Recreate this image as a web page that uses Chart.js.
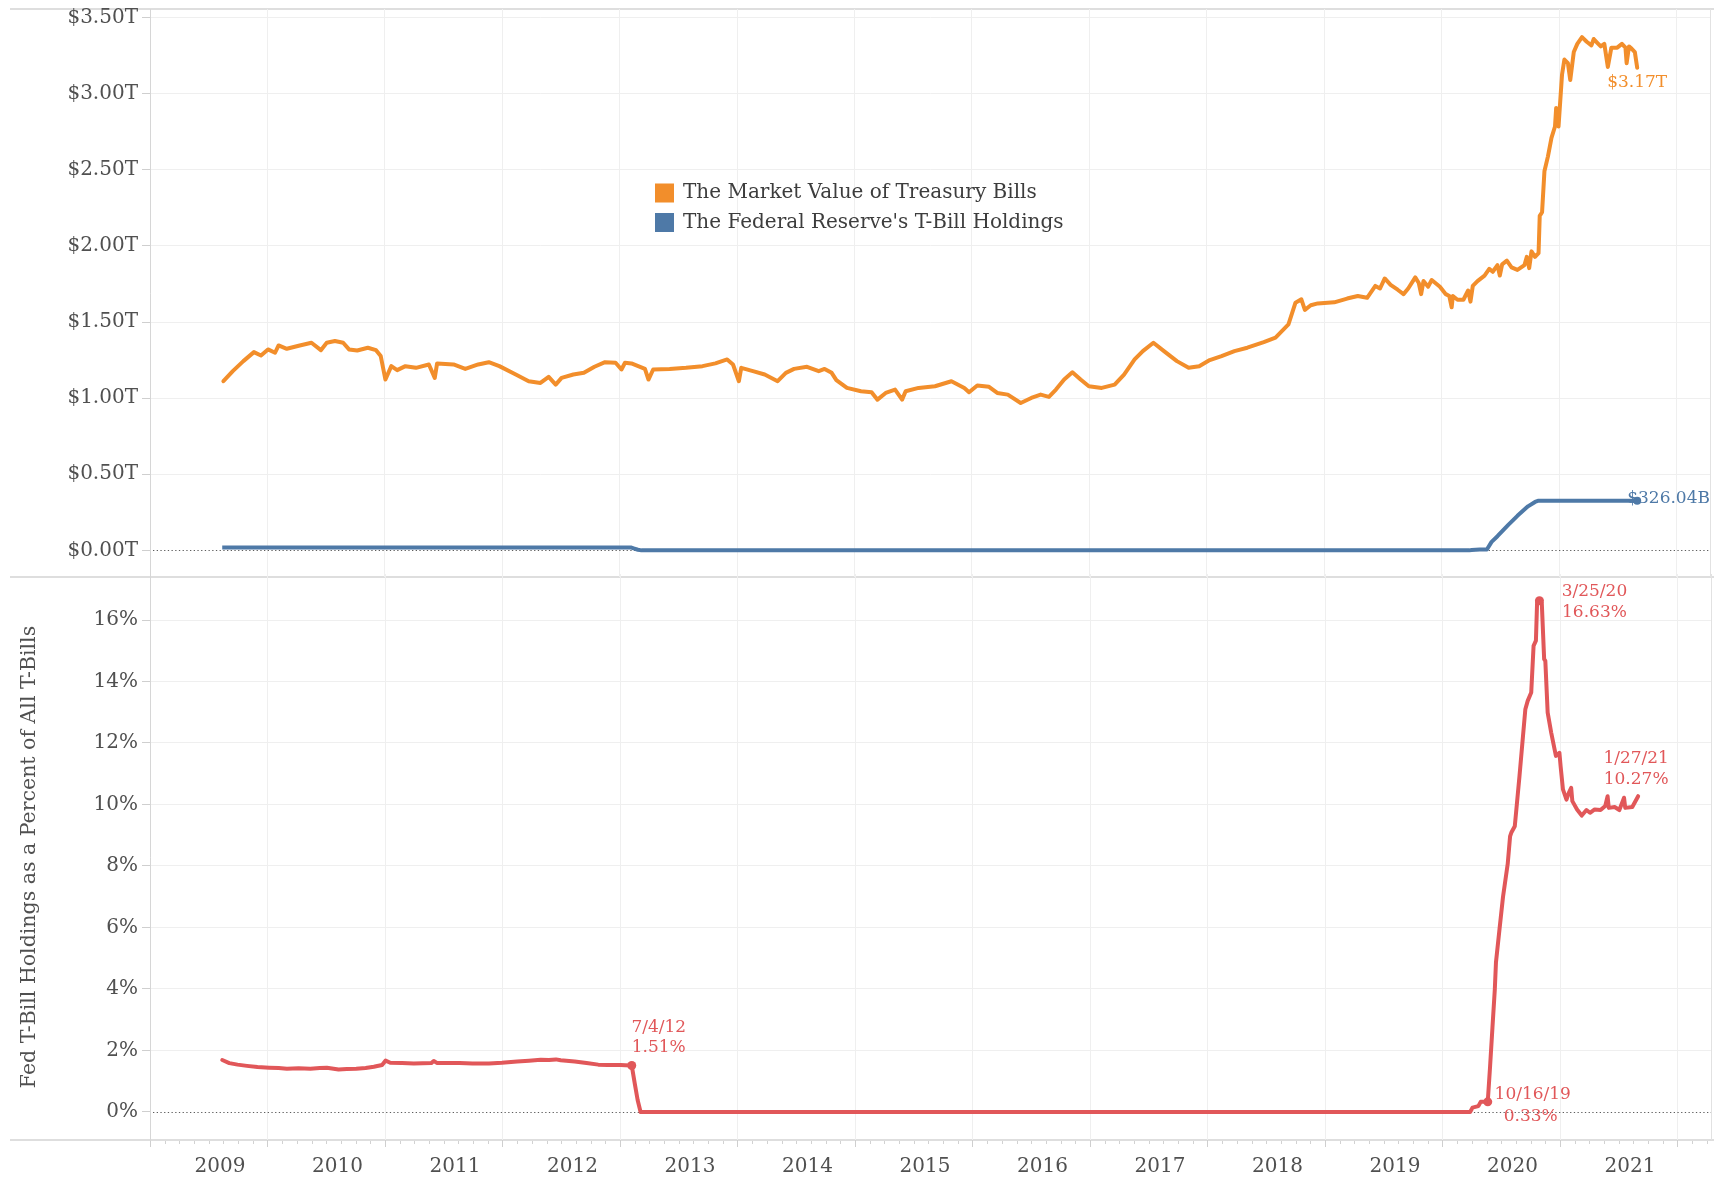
<!DOCTYPE html>
<html><head><meta charset="utf-8">
<script src="https://cdn.jsdelivr.net/npm/chart.js@4.4.1/dist/chart.umd.min.js"></script>
<style>
html,body{margin:0;padding:0;background:#fff;}
body{width:1714px;height:1179px;overflow:hidden;position:relative;}
#top{position:absolute;left:0;top:0;width:1714px;height:581px;}
#bot{position:absolute;left:0;top:560px;width:1714px;height:619px;}
</style></head>
<body>
<div id="top"><canvas id="c1"></canvas></div>
<div id="bot"><canvas id="c2"></canvas></div>
<script>
// ---------- DATA (dates as decimal years) ----------
const orangeYears = [2009.03,2009.11,2009.20,2009.29,2009.35,2009.41,2009.47,2009.50,2009.57,2009.68,2009.78,2009.86,2009.91,2009.98,2010.05,2010.10,2010.17,2010.26,2010.33,2010.37,2010.41,2010.46,2010.51,2010.58,2010.67,2010.78,2010.83,2010.85,2010.99,2011.09,2011.20,2011.29,2011.38,2011.52,2011.63,2011.73,2011.80,2011.86,2011.91,2012.01,2012.10,2012.19,2012.28,2012.37,2012.42,2012.45,2012.505,2012.62,2012.65,2012.69,2012.83,2012.97,2013.11,2013.22,2013.32,2013.37,2013.42,2013.44,2013.54,2013.64,2013.75,2013.82,2013.89,2014.00,2014.10,2014.15,2014.21,2014.25,2014.34,2014.46,2014.55,2014.60,2014.67,2014.75,2014.81,2014.84,2014.95,2015.09,2015.23,2015.34,2015.38,2015.45,2015.55,2015.62,2015.71,2015.82,2015.91,2015.99,2016.06,2016.12,2016.19,2016.26,2016.33,2016.40,2016.51,2016.62,2016.70,2016.79,2016.86,2016.95,2017.04,2017.15,2017.25,2017.34,2017.43,2017.53,2017.64,2017.75,2017.89,2017.99,2018.10,2018.16,2018.21,2018.24,2018.29,2018.35,2018.49,2018.60,2018.69,2018.77,2018.84,2018.88,2018.92,2018.97,2019.03,2019.08,2019.12,2019.18,2019.21,2019.23,2019.25,2019.29,2019.32,2019.39,2019.44,2019.47,2019.49,2019.50,2019.54,2019.59,2019.63,2019.65,2019.67,2019.71,2019.77,2019.81,2019.84,2019.88,2019.90,2019.92,2019.96,2020.00,2020.05,2020.11,2020.13,2020.15,2020.17,2020.20,2020.23,2020.24,2020.26,2020.28,2020.31,2020.34,2020.37,2020.38,2020.40,2020.43,2020.45,2020.48,2020.50,2020.53,2020.56,2020.60,2020.64,2020.68,2020.70,2020.73,2020.76,2020.79,2020.82,2020.85,2020.90,2020.94,2020.97,2020.98,2021.00,2021.02,2021.05,2021.07];
const orangeValues = [1.111,1.177,1.243,1.302,1.280,1.320,1.298,1.346,1.324,1.346,1.364,1.315,1.364,1.375,1.364,1.320,1.313,1.331,1.315,1.276,1.122,1.210,1.184,1.210,1.199,1.221,1.133,1.228,1.221,1.192,1.221,1.236,1.210,1.155,1.111,1.100,1.140,1.089,1.133,1.155,1.166,1.206,1.236,1.232,1.188,1.232,1.228,1.192,1.122,1.188,1.192,1.199,1.210,1.228,1.254,1.221,1.111,1.199,1.177,1.155,1.111,1.166,1.192,1.206,1.177,1.192,1.166,1.118,1.067,1.045,1.039,0.990,1.034,1.056,0.990,1.045,1.067,1.078,1.111,1.067,1.039,1.083,1.074,1.034,1.023,0.968,1.001,1.023,1.008,1.056,1.122,1.170,1.122,1.078,1.067,1.089,1.155,1.254,1.309,1.364,1.309,1.243,1.199,1.210,1.250,1.276,1.309,1.331,1.368,1.397,1.484,1.627,1.649,1.580,1.610,1.622,1.629,1.654,1.671,1.659,1.737,1.720,1.786,1.744,1.712,1.683,1.720,1.793,1.756,1.683,1.769,1.732,1.776,1.732,1.683,1.671,1.597,1.671,1.646,1.646,1.707,1.634,1.737,1.769,1.805,1.849,1.830,1.874,1.805,1.879,1.903,1.859,1.842,1.874,1.928,1.854,1.964,1.928,1.952,2.197,2.221,2.490,2.588,2.710,2.784,2.906,2.784,3.126,3.224,3.200,3.090,3.273,3.327,3.371,3.341,3.317,3.359,3.334,3.310,3.327,3.175,3.302,3.302,3.327,3.302,3.200,3.310,3.298,3.273,3.17];

const blueYears  = [2009.02,2012.505,2012.53,2012.56,2012.59,2019.64,2019.66,2019.73,2019.79,2019.83,2019.88,2019.97,2020.05,2020.14,2020.20,2020.23,2021.07];
const blueValues = [0.0184,0.0184,0.012,0.004,0,0,0.0025,0.006,0.006,0.056,0.093,0.166,0.227,0.289,0.318,0.326,0.32604];

const pctYears  = [2009.02,2009.08,2009.15,2009.23,2009.32,2009.42,2009.50,2009.57,2009.67,2009.77,2009.85,2009.91,2010.01,2010.08,2010.16,2010.24,2010.31,2010.38,2010.41,2010.45,2010.55,2010.65,2010.80,2010.82,2010.85,2011.04,2011.15,2011.29,2011.40,2011.53,2011.63,2011.73,2011.80,2011.86,2011.90,2012.02,2012.12,2012.22,2012.30,2012.41,2012.45,2012.505,2012.53,2012.555,2012.58,2014.0,2016.0,2018.0,2019.64,2019.66,2019.71,2019.73,2019.79,2019.81,2019.83,2019.85,2019.86,2019.89,2019.92,2019.96,2019.98,2019.99,2020.02,2020.06,2020.11,2020.13,2020.16,2020.18,2020.20,2020.21,2020.23,2020.25,2020.27,2020.28,2020.30,2020.33,2020.37,2020.40,2020.41,2020.43,2020.46,2020.48,2020.50,2020.51,2020.55,2020.59,2020.63,2020.66,2020.70,2020.75,2020.79,2020.81,2020.82,2020.87,2020.91,2020.95,2020.96,2021.02,2021.07];
const pctValues = [1.69,1.59,1.54,1.50,1.46,1.44,1.43,1.41,1.42,1.41,1.43,1.44,1.38,1.40,1.41,1.43,1.47,1.53,1.67,1.60,1.59,1.58,1.59,1.66,1.59,1.59,1.58,1.58,1.60,1.64,1.67,1.70,1.69,1.71,1.68,1.64,1.59,1.54,1.53,1.53,1.52,1.51,0.94,0.39,0,0,0,0,0,0.14,0.19,0.33,0.33,1.49,2.74,3.98,4.87,5.94,7.00,8.07,8.96,9.08,9.29,10.92,13.10,13.37,13.64,15.16,15.33,16.58,16.63,16.55,14.73,14.67,12.99,12.34,11.58,11.68,11.25,10.49,10.16,10.38,10.54,10.11,9.84,9.64,9.82,9.73,9.84,9.82,9.95,10.27,9.89,9.92,9.82,10.22,9.89,9.92,10.27];

const yearLabels = [2009,2010,2011,2012,2013,2014,2015,2016,2017,2018,2019,2020,2021];
const topTicks = [0,0.5,1,1.5,2,2.5,3,3.5];
const bottomTicks = [0,2,4,6,8,10,12,14,16];
const seriesNames = ['The Market Value of Treasury Bills', "The Federal Reserve's T-Bill Holdings"];
const pctAxisTitle = 'Fed T-Bill Holdings as a Percent of All T-Bills';
const noteDates = [2012.505, 2019.79, 2020.23, 2021.07];
const noteDateLabels = ['7/4/12','10/16/19','3/25/20','1/27/21'];
const noteValueLabels = ['1.51%','0.33%','16.63%','10.27%'];
const orangeEndLabel = '$3.17T';
const blueEndLabel = '$326.04B';

// ---------- STYLE ----------
const ORANGE = '#F28E2B', BLUE = '#4E79A7', RED = '#E15759';
const FAM = "'DejaVu Serif', serif";
const TICKC = '#505050', GRIDC = '#efefef', PANEC = '#dedede';
const LW = 4;
const xMin = 2008.405, xMax = 2021.69, gridStart = 2008.405;
Chart.defaults.font.family = FAM;

function gridTicks(withLabels){
  const t = [];
  for (let k = 0; gridStart + k <= xMax; k++) t.push({value: gridStart + k, lab:false});
  if (withLabels) yearLabels.forEach(y => t.push({value: y, lab:true}));
  return t;
}
const pts = (xs, ys) => xs.map((x,i) => ({x, y: ys[i]}));
const noPad = s => { s.paddingTop = 0; s.paddingBottom = 0; s.paddingLeft = 0; s.paddingRight = 0; };

function paneLines(ys){
  return {
    id:'paneLines',
    beforeDraw(chart){
      const c = chart.ctx, a = chart.chartArea;
      c.save(); c.strokeStyle = PANEC; c.lineWidth = 2;
      ys.forEach(f => { const y = f(a); c.beginPath(); c.moveTo(10, y); c.lineTo(chart.width, y); c.stroke(); });
      c.lineWidth = 1; c.strokeStyle = '#e2e2e2';
      c.beginPath(); c.moveTo(a.right + 0.5, a.top); c.lineTo(a.right + 0.5, a.bottom); c.stroke();
      c.restore();
    }
  };
}
const zeroLine = {
  id:'zeroLine',
  beforeDatasetsDraw(chart){
    const c = chart.ctx, a = chart.chartArea, y = Math.round(chart.scales.y.getPixelForValue(0)) + 0.5;
    c.save(); c.strokeStyle = '#5e5e5e'; c.lineWidth = 1; c.setLineDash([1.3, 2.4]);
    c.beginPath(); c.moveTo(a.left + 3, y); c.lineTo(a.right, y); c.stroke(); c.restore();
  }
};

// ---------- UPPER CHART ----------
const legendPlugin = {
  id:'legendBox',
  afterDraw(chart){
    const c = chart.ctx; c.save();
    c.font = '20px ' + FAM; c.textBaseline = 'middle'; c.textAlign = 'left';
    chart.data.datasets.forEach((ds, i) => {
      const y = 193 + 29.5 * i;
      c.fillStyle = ds.borderColor; c.fillRect(655, y - 9.5, 19, 19);
      c.fillStyle = '#3d3d3d'; c.fillText(ds.label, 683, y);
    });
    c.restore();
  }
};
const endLabels = {
  id:'endLabels',
  afterDatasetsDraw(chart){
    const c = chart.ctx, xs = chart.scales.x, ys = chart.scales.y; c.save();
    c.font = '17px ' + FAM; c.textBaseline = 'middle';
    const ox = xs.getPixelForValue(orangeYears[orangeYears.length-1]);
    const oy = ys.getPixelForValue(orangeValues[orangeValues.length-1]);
    c.fillStyle = ORANGE; c.textAlign = 'center'; c.fillText(orangeEndLabel, ox, oy + 15);
    const bx = xs.getPixelForValue(blueYears[blueYears.length-1]);
    const by = ys.getPixelForValue(blueValues[blueValues.length-1]);
    c.fillStyle = BLUE; c.textAlign = 'left'; c.fillText(blueEndLabel, bx - 10, by - 2);
    c.restore();
  }
};

new Chart(document.getElementById('c1'), {
  type:'line',
  data:{datasets:[
    {label: seriesNames[0], data: pts(orangeYears, orangeValues), borderColor: ORANGE, backgroundColor: ORANGE, borderWidth: LW, pointRadius: 0, tension: 0, borderJoinStyle:'round', borderCapStyle:'round'},
    {label: seriesNames[1], data: pts(blueYears, blueValues), borderColor: BLUE, backgroundColor: BLUE, borderWidth: LW, tension: 0, borderJoinStyle:'round',
      pointRadius: ctx => ctx.dataIndex === blueYears.length - 1 ? 4 : 0, pointBorderWidth: 0, pointBackgroundColor: BLUE}
  ]},
  options:{
    responsive:true, maintainAspectRatio:false, animation:false, devicePixelRatio:1,
    layout:{padding:{top:9, bottom:2, left:0, right:3}},
    plugins:{legend:{display:false}, tooltip:{enabled:false}},
    scales:{
      x:{type:'linear', min:xMin, max:xMax,
        afterBuildTicks: s => { s.ticks = gridTicks(false); },
        ticks:{display:false, autoSkip:false},
        grid:{color: GRIDC, drawTicks:false},
        border:{display:false},
        afterFit: s => { s.height = 0; noPad(s); }},
      y:{type:'linear', min:-0.175, max:3.556,
        afterBuildTicks: s => { s.ticks = topTicks.map(v => ({value:v})); },
        ticks:{callback: v => '$' + Number(v).toFixed(2) + 'T', color: TICKC, font:{size:20, family:FAM}, padding:4, autoSkip:false},
        grid:{color: c => (c.tick && c.tick.value === 0) ? 'rgba(0,0,0,0)' : GRIDC, tickColor:'#cfcfcf', tickLength:8},
        border:{color:'#d6d6d6', width:1},
        afterFit: s => { s.width = 150; noPad(s); }}
    }
  },
  plugins:[paneLines([a => a.top, a => a.bottom]), zeroLine, legendPlugin, endLabels]
});

// ---------- LOWER CHART ----------
const noteOffsets = [[27,-38,-18],[45,-7,15],[55,-9,12],[-2,-38,-17]];
const notesPlugin = {
  id:'notes',
  afterDatasetsDraw(chart){
    const c = chart.ctx, xs = chart.scales.x, ys = chart.scales.y; c.save();
    c.font = '17px ' + FAM; c.textBaseline = 'middle'; c.textAlign = 'center'; c.fillStyle = RED;
    noteDates.forEach((d, i) => {
      const idx = pctYears.indexOf(d);
      const px = xs.getPixelForValue(pctYears[idx]), py = ys.getPixelForValue(pctValues[idx]);
      const o = noteOffsets[i];
      c.fillText(noteDateLabels[i], px + o[0], py + o[1]);
      c.fillText(noteValueLabels[i], px + o[0] - (i === 1 ? 2 : 0), py + o[2]);
    });
    c.restore();
  }
};
const minorTicks = {
  id:'minorTicks',
  afterDraw(chart){
    const c = chart.ctx, a = chart.chartArea, xs = chart.scales.x; c.save();
    c.strokeStyle = '#d2d2d2'; c.lineWidth = 1;
    for (let k = 1; gridStart + k / 8 <= xMax; k++) {
      if (k % 8 === 0) continue;
      const x = Math.round(xs.getPixelForValue(gridStart + k / 8)) + 0.5;
      c.beginPath(); c.moveTo(x, a.bottom + 1); c.lineTo(x, a.bottom + 4); c.stroke();
    }
    c.restore();
  }
};
const noteIdx = noteDates.slice(0, 3).map(d => pctYears.indexOf(d));

new Chart(document.getElementById('c2'), {
  type:'line',
  data:{datasets:[
    {label: pctAxisTitle, data: pts(pctYears, pctValues), borderColor: RED, backgroundColor: RED, borderWidth: LW, tension: 0, borderJoinStyle:'round', borderCapStyle:'round',
      pointRadius: ctx => noteIdx.includes(ctx.dataIndex) ? 4.5 : 0, pointBorderWidth: 0, pointBackgroundColor: RED}
  ]},
  options:{
    responsive:true, maintainAspectRatio:false, animation:false, devicePixelRatio:1,
    layout:{padding:{top:14, bottom:0, left:0, right:3}},
    plugins:{legend:{display:false}, tooltip:{enabled:false}},
    scales:{
      x:{type:'linear', min:xMin, max:xMax,
        afterBuildTicks: s => { s.ticks = gridTicks(true); },
        ticks:{autoSkip:false, maxRotation:0, color: TICKC, font:{size:20, family:FAM}, padding:8,
          callback: (v, i, t) => (t[i] && t[i].lab) ? String(Math.round(v)) : ''},
        grid:{color: c => (c.tick && c.tick.lab) ? 'rgba(0,0,0,0)' : GRIDC,
              tickColor: c => (c.tick && c.tick.lab) ? 'rgba(0,0,0,0)' : '#cfcfcf', tickLength:7},
        border:{display:false},
        afterFit: s => { s.height = 39; noPad(s); }},
      y:{type:'linear', min:-0.911, max:17.496,
        afterBuildTicks: s => { s.ticks = bottomTicks.map(v => ({value:v})); },
        ticks:{callback: v => v + '%', color: TICKC, font:{size:20, family:FAM}, padding:4, autoSkip:false},
        title:{display:true, text: pctAxisTitle, color: TICKC, font:{size:20.5, family:FAM}, padding:{top:17, bottom:0}},
        grid:{color: c => (c.tick && c.tick.value === 0) ? 'rgba(0,0,0,0)' : GRIDC, tickColor:'#cfcfcf', tickLength:8},
        border:{color:'#d6d6d6', width:1},
        afterFit: s => { s.width = 150; noPad(s); }}
    }
  },
  plugins:[paneLines([a => a.bottom]), zeroLine, notesPlugin, minorTicks]
});
</script>
</body></html>
